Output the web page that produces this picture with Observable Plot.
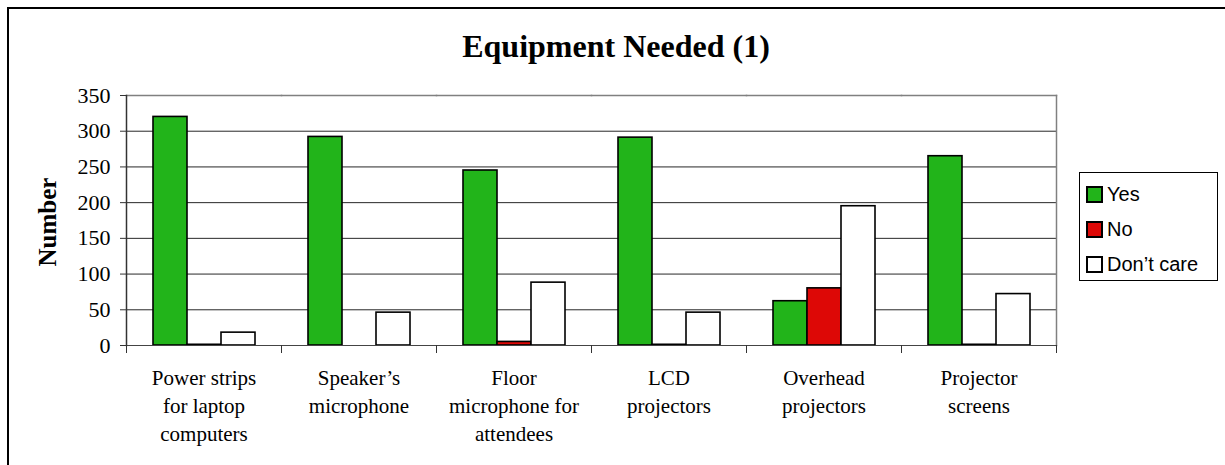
<!DOCTYPE html>
<html>
<head>
<meta charset="utf-8">
<script src="https://cdn.jsdelivr.net/npm/d3@7"></script>
<script src="https://cdn.jsdelivr.net/npm/@observablehq/plot@0.6"></script>
<style>
  html, body { margin: 0; padding: 0; background: #fff; overflow: hidden; }
  #wrap { position: relative; width: 1225px; height: 465px; overflow: hidden; background: #fff; }
  #outer { position: absolute; left: 7px; top: 7px; width: 1400px; height: 600px; border: 2px solid #000; box-sizing: border-box; }
  #chart { position: absolute; left: 0; top: 0; }
  #title { position: absolute; left: 0; width: 1232px; top: 28px; text-align: center;
           font-family: "Liberation Serif", "Times New Roman", serif; font-weight: bold; font-size: 32px; line-height: 36px; color: #000; }
  #ylabel { position: absolute; left: 48px; top: 222px; transform: translate(-50%, -50%) rotate(-90deg);
            font-family: "Liberation Serif", "Times New Roman", serif; font-weight: bold; font-size: 25px; white-space: nowrap; color: #000; }
  #legend { position: absolute; left: 1079px; top: 172px; width: 139px; height: 109px; border: 1px solid #000; box-sizing: border-box;
            font-family: "Liberation Sans", Arial, sans-serif; font-size: 20px; color: #000; }
  .item { position: absolute; left: 6px; height: 24px; display: flex; align-items: center; white-space: nowrap; }
  .sw { width: 13px; height: 13px; border: 2px solid #000; margin-right: 4px; box-sizing: content-box; }
</style>
</head>
<body>
<div id="wrap">
  <div id="outer"></div>
  <div id="chart"></div>
  <div id="title">Equipment Needed (1)</div>
  <div id="ylabel">Number</div>
  <div id="legend"></div>
</div>
<script>
const categories = [
  "Power strips\nfor laptop\ncomputers",
  "Speaker’s\nmicrophone",
  "Floor\nmicrophone for\nattendees",
  "LCD\nprojectors",
  "Overhead\nprojectors",
  "Projector\nscreens"
];
const series = ["Yes", "No", "Don’t care"];
const yesValues = [320, 292, 245, 291, 62, 265];
const noValues = [1, 0, 5, 1, 80, 1];
const dontCareValues = [18, 46, 88, 46, 195, 72];
const seriesColors = ["#22B41A", "#DD0806", "#FFFFFF"];
const yTicks = [0, 50, 100, 150, 200, 250, 300, 350];

const valuesBySeries = [yesValues, noValues, dontCareValues];
const data = [];
categories.forEach((cat, i) => {
  series.forEach((s, j) => {
    data.push({cat, series: s, value: valuesBySeries[j][i]});
  });
});

const chart = Plot.plot({
  width: 1225,
  height: 465,
  marginLeft: 124,
  marginRight: 167,
  marginTop: 95,
  marginBottom: 120,
  style: {fontFamily: "'Liberation Serif', 'Times New Roman', serif", background: "transparent", color: "#000"},
  fx: {domain: categories, padding: 0, axis: null},
  x: {domain: series, paddingInner: 0, paddingOuter: 0.75, axis: null},
  y: {domain: [0, 350], axis: null},
  color: {domain: series, range: seriesColors},
  marks: [
    Plot.gridY(yTicks, {stroke: "#000", strokeOpacity: 0.85, strokeWidth: 1}),
    Plot.frame({anchor: "top", stroke: "#808080", strokeWidth: 1.5}),
    Plot.frame({anchor: "right", facetAnchor: "right", stroke: "#808080", strokeWidth: 1.5}),
    Plot.barY(data, {fx: "cat", x: "series", y: "value", fill: "series", stroke: "#000", strokeWidth: 1.6}),
    Plot.frame({anchor: "bottom", stroke: "#444", strokeWidth: 1.2}),
    Plot.frame({anchor: "left", facetAnchor: "left", stroke: "#333", strokeWidth: 1.5}),
    Plot.frame({anchor: "left", insetTop: 250, insetBottom: -7, stroke: "#333"}),
    Plot.frame({anchor: "right", facetAnchor: "right", insetTop: 250, insetBottom: -7, stroke: "#333"}),
    Plot.axisY(yTicks, {tickSize: 6, tickPadding: 10, fontSize: 22, stroke: "#333", label: null}),
    Plot.text(categories, {fx: d => d, text: d => d, frameAnchor: "bottom", lineAnchor: "top", dy: 20, fontSize: 21, lineHeight: 1.33, fill: "#000"})
  ]
});
document.getElementById("chart").appendChild(chart);

const legend = document.getElementById("legend");
series.forEach((s, j) => {
  const item = document.createElement("div");
  item.className = "item";
  item.style.top = (9 + j * 35) + "px";
  const sw = document.createElement("div");
  sw.className = "sw";
  sw.style.background = seriesColors[j];
  const label = document.createElement("span");
  label.textContent = s;
  item.appendChild(sw);
  item.appendChild(label);
  legend.appendChild(item);
});
</script>
</body>
</html>
